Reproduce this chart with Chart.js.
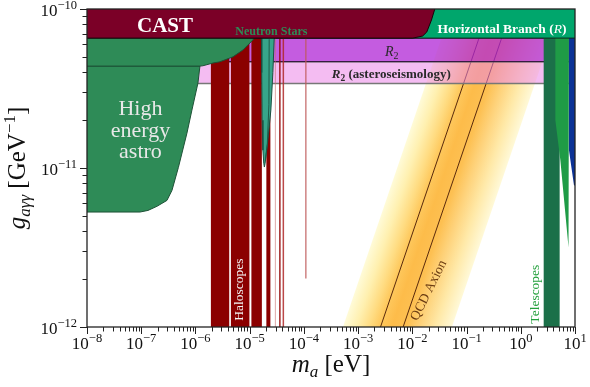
<!DOCTYPE html>
<html>
<head>
<meta charset="utf-8">
<script src="https://cdn.jsdelivr.net/npm/chart.js@4.4.1/dist/chart.umd.min.js"></script>
<style>
  html, body { margin: 0; padding: 0; background: #fff; }
  #wrap { width: 590px; height: 387px; position: relative; }
</style>
</head>
<body>
<div id="wrap"><canvas id="chart"></canvas></div>
<script>
// axis ranges and tick labels (powers of ten)
const X_MIN = 1e-8, X_MAX = 10;
const Y_MIN = 1e-12, Y_MAX = 1e-10;
const xTickExps = [-8, -7, -6, -5, -4, -3, -2, -1, 0, 1];
const yTickExps = [-12, -11, -10];

// limits, points as [log10 m_a, log10 g_agg]
const castEdge = [[-8.3,-10.183],[-1.99,-10.183],[-1.81,-10.17],[-1.734,-10.145],[-1.647,-10.069],[-1.586,-10.0],[-1.55,-9.9],[-8.3,-9.9],[-8.3,-10.183]];
const hbEdge = [[-8.3,-10.183],[1.2,-10.183],[1.2,-9.9],[-8.3,-9.9],[-8.3,-10.183]];
const r2Band = [[-8.3,-10.331],[1.2,-10.331],[1.2,-10.183],[-8.3,-10.183]];
const r2AstBand = [[-8.3,-10.468],[1.2,-10.468],[1.2,-10.331],[-8.3,-10.331]];
const heAstroTop = [[-8.3,-10.359],[-5.917,-10.359],[-5.862,-10.357],[-5.678,-10.34],[-5.549,-10.332],[-5.309,-10.301],[-5.125,-10.258],[-4.996,-10.214],[-4.941,-10.195],[-4.904,-10.176],[-4.88,-9.9],[-8.3,-9.9],[-8.3,-10.359]];
const heAstroMain = [[-8.3,-10.359],[-5.917,-10.359],[-5.954,-10.466],[-6.065,-10.636],[-6.157,-10.781],[-6.314,-10.996],[-6.433,-11.141],[-6.526,-11.204],[-6.71,-11.241],[-6.876,-11.267],[-7.023,-11.277],[-8.3,-11.277],[-8.3,-10.359]];
const neutronStars = [[-4.78,-9.9],[-4.778,-10.4],[-4.77,-10.7],[-4.756,-10.888],[-4.74,-10.97],[-4.729,-10.994],[-4.715,-10.97],[-4.69,-10.9],[-4.664,-10.825],[-4.609,-10.636],[-4.572,-10.4],[-4.548,-10.19],[-4.545,-9.9],[-4.78,-9.9]];
const neutronStarsInner = [[-4.64,-10.19],[-4.645,-10.6],[-4.675,-10.85],[-4.71,-10.95]];
const haloBars = [[-5.715,-5.377],[-5.346,-5.005],[-4.968,-4.775],[-4.692,-4.618]];
const haloLineX = [-4.526, -4.443, -4.379, -3.964];
const haloLineLow = [-12.5, -12.5, -12.5, -11.695];
const teleDark = [[0.4225,-12.5],[0.717,-12.5],[0.717,-10.1],[0.4225,-10.1],[0.4225,-12.5]];
const teleLight = [[0.638,-10.1],[0.889,-10.1],[0.889,-10.888],[0.872,-11.5],[0.73,-10.951],[0.638,-10.7],[0.638,-10.1]];
const teleBlue = [[0.889,-10.1],[1.2,-10.1],[1.2,-11.115],[0.981,-11.109],[0.889,-10.888],[0.889,-10.1]];
// QCD axion band: log g = log m + c
const qcdEdgeC = [-8.72, -10.73];
const qcdLineC = [-9.413, -9.83];

const SERIF = "'Liberation Serif', 'Times New Roman', serif";

function toXY(pts) {
    return pts.map(p => ({ x: Math.pow(10, p[0]), y: Math.pow(10, p[1]) }));
}

function poly(pts, bg, border, bw) {
    return {
        data: toXY(pts),
        showLine: true,
        fill: 'shape',
        backgroundColor: bg,
        borderColor: border || 'rgba(0,0,0,0)',
        borderWidth: bw || 0,
        pointRadius: 0,
        pointHoverRadius: 0,
        tension: 0
    };
}

function line(pts, color, width) {
    return {
        data: toXY(pts),
        showLine: true,
        fill: false,
        borderColor: color,
        borderWidth: width,
        pointRadius: 0,
        pointHoverRadius: 0,
        tension: 0
    };
}

// gradient across the QCD band
function qcdFill(context) {
    const chart = context.chart;
    const xs = chart.scales.x, ys = chart.scales.y;
    if (!chart.chartArea || !xs || !ys) return '#fdc45a';
    const ax = xs.getPixelForValue(Math.pow(10, -12 - qcdEdgeC[0])), ay = ys.getPixelForValue(1e-12);
    const bx = xs.getPixelForValue(Math.pow(10, -10 - qcdEdgeC[0])), by = ys.getPixelForValue(1e-10);
    const cx = xs.getPixelForValue(Math.pow(10, -12 - qcdEdgeC[1]));
    const ux = bx - ax, uy = by - ay;
    const len = Math.hypot(ux, uy);
    const nx = -uy / len, ny = ux / len;
    const w = (cx - ax) * nx;
    const g = chart.ctx.createLinearGradient(ax, ay, ax + nx * w, ay + ny * w);
    g.addColorStop(0, '#fffbd8');
    g.addColorStop(0.12, '#fff0b0');
    g.addColorStop(0.24, '#ffdc82');
    g.addColorStop(0.33, '#fec95e');
    g.addColorStop(0.45, '#fdbc4a');
    g.addColorStop(0.58, '#fdc052');
    g.addColorStop(0.7, '#fed27a');
    g.addColorStop(0.85, '#ffe9a8');
    g.addColorStop(1, '#fff9d8');
    return g;
}

// back to front
const layers = [];
const qcdBandPts = [
    [-12.5 - qcdEdgeC[0], -12.5], [-12.5 - qcdEdgeC[1], -12.5],
    [-9.9 - qcdEdgeC[1], -9.9], [-9.9 - qcdEdgeC[0], -9.9], [-12.5 - qcdEdgeC[0], -12.5]
];
layers.push(poly(qcdBandPts, qcdFill));
qcdLineC.forEach(c => {
    layers.push(line([[-12.2 - c, -12.2], [-10.18 - c, -10.18]], '#5a2a0c', 1));
});
layers.push(poly(r2AstBand, 'rgba(235,131,231,0.54)', '#777777', 1.5));
layers.push(poly(r2Band, 'rgba(176,38,214,0.75)', '#2a1530', 1));
haloBars.forEach(b => {
    layers.push(poly([[b[0],-12.5],[b[1],-12.5],[b[1],-9.9],[b[0],-9.9],[b[0],-12.5]], '#8b0000'));
});
const haloLineColors = ['rgba(200,110,110,0.6)', 'rgba(150,10,10,0.9)', 'rgba(175,40,40,0.85)', 'rgba(190,90,90,0.75)'];
const haloLineWidths = [1, 1.5, 1.5, 1.5];
haloLineX.forEach((x, i) => {
    layers.push(line([[x, haloLineLow[i]], [x, -9.9]], haloLineColors[i], haloLineWidths[i]));
});
layers.push(poly(heAstroMain, '#2e8b57', '#1d5136', 1));
layers.push(poly(heAstroTop, '#2e8b57', '#1d5136', 1));
layers.push(poly(neutronStars, '#37a58a', '#1b4f40', 1));
layers.push(line(neutronStarsInner, '#1d5c4a', 1));
layers.push(poly(teleDark, '#1b7049'));
layers.push(poly(teleLight, '#1f9b46'));
layers.push(poly(teleBlue, '#0c3296'));
layers.push(poly(hbEdge, '#00a66c', '#0b2a1c', 1));
layers.push(poly(castEdge, '#7b0027', '#1a0008', 1));
layers.forEach((d, i) => { d.order = layers.length - i; });

function drawRuns(ctx, runs, x, y, align) {
    let total = 0;
    runs.forEach(r => { ctx.font = r.font; r.w = ctx.measureText(r.t).width; total += r.w; });
    let cx = align === 'center' ? x - total / 2 : align === 'right' ? x - total : x;
    ctx.textAlign = 'left';
    runs.forEach(r => {
        ctx.font = r.font;
        ctx.fillText(r.t, cx, y + (r.dy || 0));
        cx += r.w;
    });
}

const regionLabels = {
    id: 'regionLabels',
    afterDatasetsDraw(chart) {
        const ctx = chart.ctx;
        const px = v => chart.scales.x.getPixelForValue(Math.pow(10, v));
        const py = v => chart.scales.y.getPixelForValue(Math.pow(10, v));
        ctx.save();
        ctx.textBaseline = 'alphabetic';

        ctx.fillStyle = '#ffffff';
        drawRuns(ctx, [{ t: 'CAST', font: 'bold 21px ' + SERIF }], px(-6.562), py(-10.142), 'center');

        ctx.fillStyle = '#e8e8e8';
        ['High', 'energy', 'astro'].forEach((t, i) => {
            drawRuns(ctx, [{ t: t, font: '22px ' + SERIF }], px(-7.014), py([-10.668, -10.807, -10.939][i]), 'center');
        });

        ctx.fillStyle = '#2e8b57';
        drawRuns(ctx, [{ t: 'Neutron Stars', font: 'bold 12px ' + SERIF }], px(-4.6), py(-10.164), 'center');

        ctx.fillStyle = '#ffffff';
        drawRuns(ctx, [
            { t: 'Horizontal Branch (', font: 'bold 13.5px ' + SERIF },
            { t: 'R', font: 'italic 13.5px ' + SERIF },
            { t: ')', font: 'bold 13.5px ' + SERIF }
        ], px(-0.348), py(-10.153), 'center');

        ctx.fillStyle = '#2a2a2a';
        drawRuns(ctx, [
            { t: 'R', font: 'italic 14px ' + SERIF },
            { t: '2', font: '10px ' + SERIF, dy: 3 }
        ], px(-2.379), py(-10.296), 'center');
        drawRuns(ctx, [
            { t: 'R', font: 'italic bold 13px ' + SERIF },
            { t: '2', font: 'bold 9.5px ' + SERIF, dy: 3 },
            { t: ' (asteroseismology)', font: 'bold 13px ' + SERIF }
        ], px(-2.388), py(-10.432), 'center');

        ctx.save();
        ctx.translate(px(-5.116), py(-11.96));
        ctx.rotate(-Math.PI / 2);
        ctx.fillStyle = '#f4f4f4';
        drawRuns(ctx, [{ t: 'Haloscopes', font: '13.5px ' + SERIF }], 0, 0, 'left');
        ctx.restore();

        ctx.save();
        ctx.translate(px(0.34), py(-11.979));
        ctx.rotate(-Math.PI / 2);
        ctx.fillStyle = '#23a03c';
        drawRuns(ctx, [{ t: 'Telescopes', font: '13.5px ' + SERIF }], 0, 0, 'left');
        ctx.restore();

        ctx.save();
        ctx.translate(px(-1.697), py(-11.771));
        ctx.rotate(-63.5 * Math.PI / 180);
        ctx.fillStyle = '#6b3c12';
        ctx.textBaseline = 'middle';
        drawRuns(ctx, [{ t: 'QCD Axion', font: '13.5px ' + SERIF }], 0, 0, 'center');
        ctx.restore();

        ctx.restore();
    }
};

const axisDecor = {
    id: 'axisDecor',
    afterDraw(chart) {
        const ctx = chart.ctx;
        const { left, right, top, bottom } = chart.chartArea;
        const xs = chart.scales.x, ys = chart.scales.y;
        ctx.save();
        ctx.strokeStyle = '#222';
        ctx.lineWidth = 1.3;
        ctx.strokeRect(left, top, right - left, bottom - top);

        ctx.lineWidth = 1;
        ctx.beginPath();
        for (let e = -8; e <= 1; e++) {
            for (let k = 1; k <= 9; k++) {
                const v = k * Math.pow(10, e);
                if (v < X_MIN * 0.999 || v > X_MAX * 1.001) continue;
                const x = Math.round(xs.getPixelForValue(v)) + 0.5;
                ctx.moveTo(x, bottom);
                ctx.lineTo(x, bottom + (k === 1 ? 7 : 4.5));
            }
        }
        for (let e = -12; e <= -10; e++) {
            for (let k = 1; k <= 9; k++) {
                const v = k * Math.pow(10, e);
                if (v < Y_MIN * 0.999 || v > Y_MAX * 1.001) continue;
                const y = Math.round(ys.getPixelForValue(v)) + 0.5;
                ctx.moveTo(left, y);
                ctx.lineTo(left - (k === 1 ? 7 : 4.5), y);
            }
        }
        ctx.stroke();

        ctx.fillStyle = '#111';
        ctx.textBaseline = 'alphabetic';
        const expText = e => (e < 0 ? '\u2212' : '') + Math.abs(e);
        xTickExps.forEach(e => {
            drawRuns(ctx, [
                { t: '10', font: '17px ' + SERIF },
                { t: expText(e), font: '12.5px ' + SERIF, dy: -7 }
            ], xs.getPixelForValue(Math.pow(10, e)), bottom + 22, 'center');
        });
        yTickExps.forEach(e => {
            drawRuns(ctx, [
                { t: '10', font: '17px ' + SERIF },
                { t: expText(e), font: '12.5px ' + SERIF, dy: -7 }
            ], left - 10, ys.getPixelForValue(Math.pow(10, e)) + 7, 'right');
        });

        drawRuns(ctx, [
            { t: 'm', font: 'italic 25px ' + SERIF },
            { t: 'a', font: 'italic 17px ' + SERIF, dy: 5 },
            { t: ' [eV]', font: '25px ' + SERIF }
        ], (left + right) / 2, 372, 'center');

        ctx.save();
        ctx.translate(25, (top + bottom) / 2);
        ctx.rotate(-Math.PI / 2);
        drawRuns(ctx, [
            { t: 'g', font: 'italic 25px ' + SERIF },
            { t: 'a\u03b3\u03b3', font: 'italic 17px ' + SERIF, dy: 5 },
            { t: ' [GeV', font: '25px ' + SERIF },
            { t: '\u22121', font: '17px ' + SERIF, dy: -10 },
            { t: ']', font: '25px ' + SERIF }
        ], 0, 0, 'center');
        ctx.restore();

        ctx.restore();
    }
};

new Chart(document.getElementById('chart'), {
    type: 'scatter',
    data: { datasets: layers },
    options: {
        responsive: true,
        maintainAspectRatio: false,
        animation: false,
        events: [],
        layout: { padding: { top: 9, right: 15, left: 0, bottom: 0 } },
        plugins: {
            legend: { display: false },
            tooltip: { enabled: false }
        },
        scales: {
            x: {
                type: 'logarithmic',
                min: X_MIN,
                max: X_MAX,
                ticks: { display: false },
                grid: { display: false },
                border: { display: false },
                afterFit: s => { s.height = 60; }
            },
            y: {
                type: 'logarithmic',
                min: Y_MIN,
                max: Y_MAX,
                ticks: { display: false },
                grid: { display: false },
                border: { display: false },
                afterFit: s => { s.width = 87; }
            }
        }
    },
    plugins: [regionLabels, axisDecor]
});
</script>
</body>
</html>
